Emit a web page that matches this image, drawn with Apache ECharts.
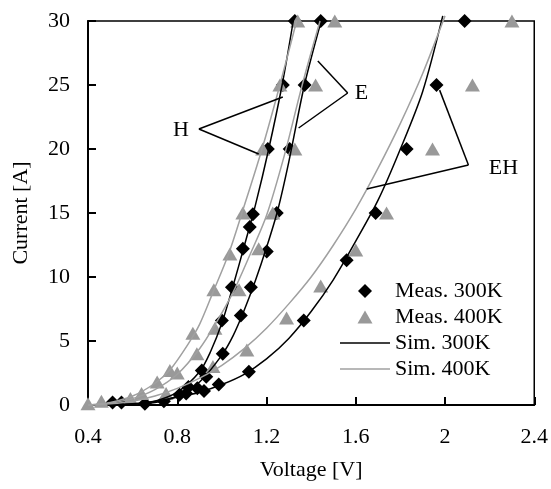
<!DOCTYPE html>
<html>
<head>
<meta charset="utf-8">
<script src="https://cdn.jsdelivr.net/npm/echarts@6/dist/echarts.min.js"></script>
<style>
  html, body { margin: 0; padding: 0; background: #fff; }
  #chart { width: 551px; height: 489px; }
</style>
</head>
<body>
<div id="chart"></div>
<script>
// x ticks / y ticks
const xTicks = [0.4, 0.8, 1.2, 1.6, 2.0, 2.4];
const yTicks = [0, 5, 10, 15, 20, 25, 30];

// measured points [V, A]
const meas300 = [
  [0.51, 0.2], [0.55, 0.2], [0.655, 0.1], [0.74, 0.3], [0.81, 0.8], [0.85, 1.4], [0.84, 0.9],
  [0.89, 1.3], [0.92, 1.1], [0.91, 2.7], [0.93, 2.2], [0.986, 1.6], [1.121, 2.6], [1.004, 4.0],
  [1.0, 6.6], [1.085, 7.0], [1.045, 9.2], [1.13, 9.2], [1.094, 12.2], [1.201, 12.0], [1.125, 13.9],
  [1.139, 14.9], [1.246, 15], [1.206, 20], [1.304, 20], [1.273, 25], [1.371, 25], [1.327, 30],
  [1.443, 30], [1.367, 6.6], [1.559, 11.3], [1.689, 15], [1.828, 20], [1.962, 25], [2.088, 30]
];
const meas400 = [
  [0.4, 0.1], [0.46, 0.3], [0.59, 0.5], [0.64, 0.9], [0.71, 1.8], [0.75, 0.9], [0.767, 2.7],
  [0.80, 2.5], [0.87, 5.6], [0.888, 4.0], [0.96, 3.0], [0.964, 9.0], [0.969, 6.0], [1.036, 11.8],
  [1.077, 9.0], [1.094, 15], [1.165, 12.2], [1.228, 15], [1.183, 20], [1.327, 20], [1.26, 25],
  [1.42, 25], [1.34, 30], [1.506, 30], [1.112, 4.3], [1.29, 6.8], [1.443, 9.3], [1.60, 12.1],
  [1.738, 15], [1.944, 20], [2.123, 25], [2.30, 30]
];

// simulated curves
const simH300 = [[0.5, 0], [0.6, 0.05], [0.7, 0.3], [0.8, 1.0], [0.9, 2.6], [0.95, 4.2], [1.0, 6.4],
  [1.05, 9.3], [1.1, 12.4], [1.15, 15.6], [1.21, 20], [1.27, 25], [1.32, 30]];
const simH400 = [[0.4, 0], [0.5, 0.2], [0.6, 0.7], [0.7, 1.7], [0.77, 2.8], [0.85, 4.8], [0.9, 6.3],
  [0.96, 8.8], [1.03, 11.8], [1.09, 15], [1.18, 20], [1.26, 25], [1.335, 30]];
const simE300 = [[0.5, 0], [0.7, 0.2], [0.8, 0.7], [0.9, 1.8], [1.0, 3.9], [1.05, 5.4], [1.1, 7.4],
  [1.15, 9.7], [1.2, 12.3], [1.25, 15.2], [1.3, 19], [1.37, 25], [1.445, 30]];
const simE400 = [[0.4, 0], [0.5, 0.15], [0.6, 0.5], [0.7, 1.2], [0.8, 2.4], [0.9, 4.4], [0.97, 6.3],
  [1.05, 8.8], [1.12, 11.5], [1.2, 14.8], [1.28, 19.5], [1.36, 25], [1.44, 30]];
const simEH300 = [[0.5, 0], [0.6, 0.1], [0.7, 0.3], [0.8, 0.6], [0.9, 1.0], [1.0, 1.6], [1.1, 2.4],
  [1.2, 3.6], [1.3, 5.2], [1.4, 7.3], [1.5, 9.8], [1.6, 12.8], [1.7, 16.0], [1.8, 20], [1.9, 24.5], [1.99, 30.4]];
const simEH400 = [[0.4, 0], [0.5, 0.1], [0.6, 0.3], [0.7, 0.7], [0.8, 1.3], [0.9, 2.1], [1.0, 3.1],
  [1.1, 4.4], [1.2, 6.0], [1.3, 7.9], [1.4, 10.0], [1.5, 12.5], [1.6, 15.3], [1.7, 18.5], [1.8, 22],
  [1.9, 25.9], [2.0, 30.4]];

// callout labels: text position, vertex, two ends
const notes = [
  { name: 'H', text: [0.816, 21.48], tip: [0.897, 21.56], ends: [[1.273, 24.06], [1.165, 19.61]] },
  { name: 'E', text: [1.626, 24.375], tip: [1.564, 24.375], ends: [[1.43, 26.875], [1.344, 21.64]] },
  { name: 'EH', text: [2.262, 18.52], tip: [2.105, 18.75], ends: [[1.976, 24.6], [1.649, 16.875]] }
];

const font = 'Liberation Serif';
const fs = 22;
const chart = echarts.init(document.getElementById('chart'));

// legend icons: extra moveTo points keep the 50x14 box so the mark is not stretched
const iconDiamond = 'path://M0,0M50,14M25,0L32,7L25,14L18,7Z';
const iconTriangle = 'path://M0,0M50,14M25,0.5L32.5,13.5L17.5,13.5Z';
const iconLine = 'path://M0,0M50,14M0,6.2L50,6.2L50,7.8L0,7.8Z';

function simLine(name, data, color) {
  return {
    name: name,
    type: 'line',
    data: data,
    smooth: 0.3,
    showSymbol: false,
    symbol: 'none',
    clip: false,
    z: 3,
    lineStyle: { color: color, width: 1.5 },
    itemStyle: { color: color }
  };
}

const noteLines = [];
notes.forEach(n => {
  n.ends.forEach(e => {
    noteLines.push([{ coord: n.tip }, { coord: e }]);
  });
});

const option = {
  animation: false,
  textStyle: { fontFamily: font },
  grid: {
    left: 88, right: 15, top: 21, bottom: 84,
    show: true, borderColor: '#000', borderWidth: 1.5
  },
  legend: {
    data: [
      { name: 'Meas. 300K', icon: iconDiamond },
      { name: 'Meas. 400K', icon: iconTriangle },
      { name: 'Sim. 300K', icon: iconLine },
      { name: 'Sim. 400K', icon: iconLine }
    ],
    orient: 'vertical',
    left: 340, top: 280, padding: 0,
    itemWidth: 50, itemHeight: 14, itemGap: 4,
    textStyle: { fontFamily: font, fontSize: fs, color: '#000' }
  },
  xAxis: {
    type: 'value',
    min: xTicks[0], max: xTicks[xTicks.length - 1], interval: 0.4,
    name: 'Voltage [V]', nameLocation: 'middle', nameGap: 54,
    nameTextStyle: { fontFamily: font, fontSize: fs, color: '#000' },
    axisLine: { lineStyle: { color: '#000', width: 2 } },
    axisTick: { inside: true, length: 8, lineStyle: { color: '#000', width: 2 } },
    axisLabel: { fontFamily: font, fontSize: fs, color: '#000', margin: 21 },
    splitLine: { show: false }
  },
  yAxis: {
    type: 'value',
    min: yTicks[0], max: yTicks[yTicks.length - 1], interval: 5,
    name: 'Current [A]', nameLocation: 'middle', nameGap: 56,
    nameTextStyle: { fontFamily: font, fontSize: fs, color: '#000' },
    axisLine: { lineStyle: { color: '#000', width: 2 } },
    axisTick: { inside: true, length: 8, lineStyle: { color: '#000', width: 2 } },
    axisLabel: { fontFamily: font, fontSize: fs, color: '#000', margin: 18 },
    splitLine: { show: false }
  },
  series: [
    {
      name: 'Meas. 300K', type: 'scatter', data: meas300,
      symbol: 'diamond', symbolSize: 14, z: 2,
      itemStyle: { color: '#000', opacity: 1 }
    },
    {
      name: 'Meas. 400K', type: 'scatter', data: meas400,
      symbol: 'triangle', symbolSize: [15, 13], z: 2,
      itemStyle: { color: '#999999', opacity: 1 }
    },
    simLine('Sim. 300K', simH300, '#000'),
    simLine('Sim. 400K', simH400, '#a0a0a0'),
    simLine('Sim. 300K', simE300, '#000'),
    simLine('Sim. 400K', simE400, '#a0a0a0'),
    simLine('Sim. 300K', simEH300, '#000'),
    simLine('Sim. 400K', simEH400, '#a0a0a0'),
    {
      name: 'notes', type: 'scatter', data: [],
      markLine: {
        silent: true, symbol: ['none', 'none'],
        label: { show: false },
        lineStyle: { color: '#000', width: 1.5, type: 'solid' },
        data: noteLines
      },
      markPoint: {
        silent: true, symbol: 'circle', symbolSize: 0,
        label: { show: true, formatter: '{b}', fontFamily: font, fontSize: fs, color: '#000' },
        data: notes.map(n => ({ name: n.name, coord: n.text }))
      }
    }
  ]
};

chart.setOption(option);
</script>
</body>
</html>
